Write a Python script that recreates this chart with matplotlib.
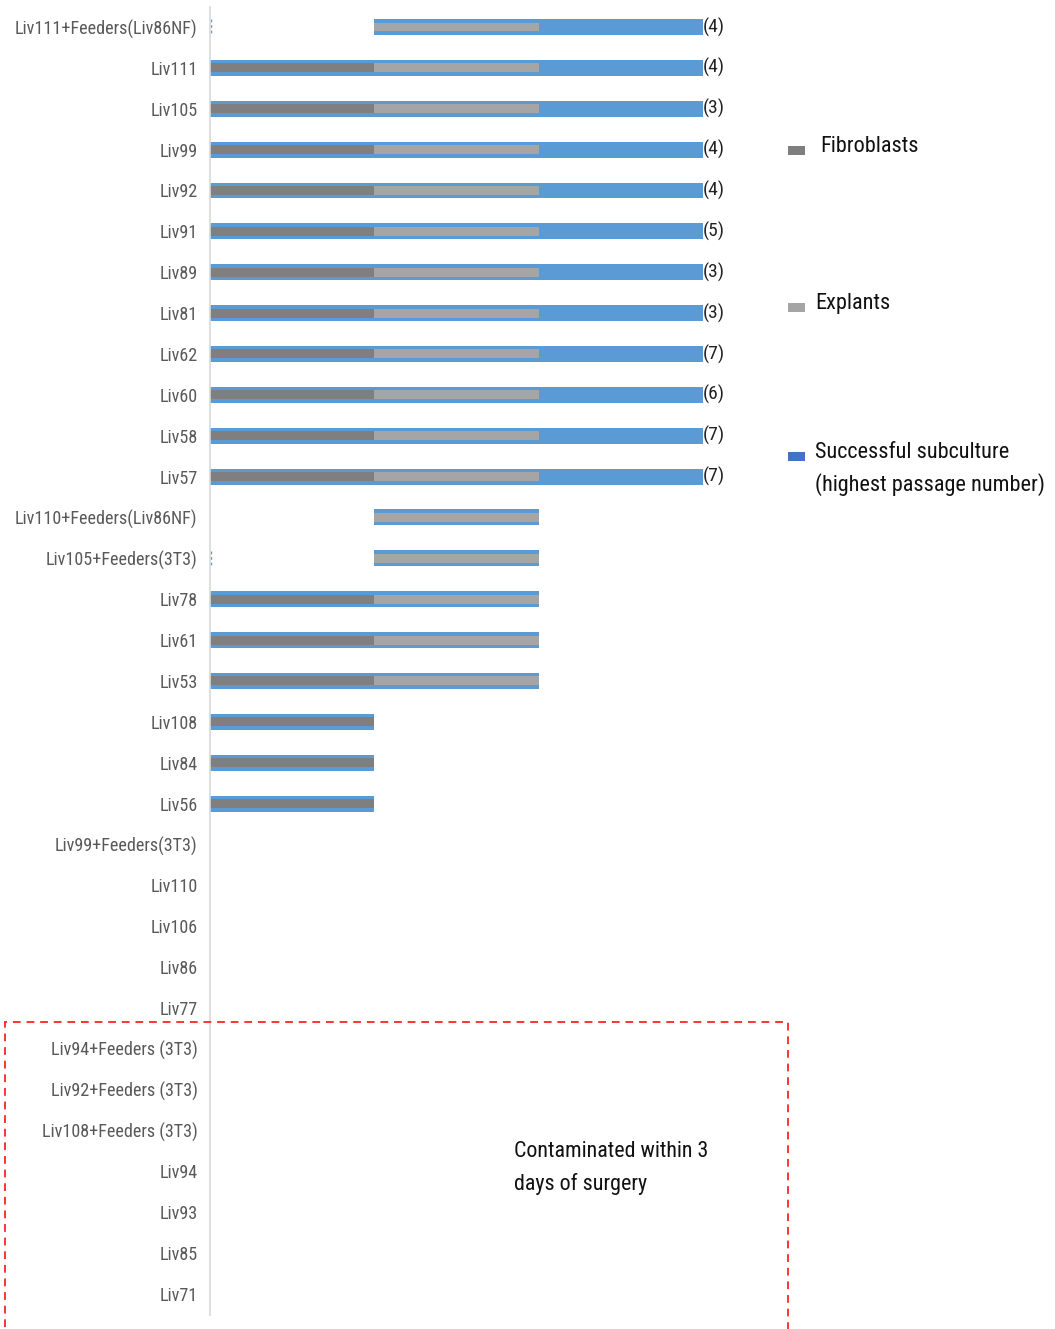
import matplotlib
matplotlib.use("Agg")
import matplotlib.pyplot as plt
from matplotlib import font_manager
from matplotlib.patches import Rectangle

# Prefer a narrow sans face; otherwise fall back to Liberation Sans at smaller sizes
installed = {f.name for f in font_manager.fontManager.ttflist}
narrow = next((n for n in ["Liberation Sans Narrow", "Arial Narrow", "Roboto Condensed"]
               if n in installed), None)
if narrow:
    plt.rcParams['font.family'] = [narrow, 'DejaVu Sans']
    FS_TICK, FS_LEG, FS_NOTE, FS_PASS = 13.1, 16, 15.8, 14
else:
    plt.rcParams['font.family'] = ['Liberation Sans', 'DejaVu Sans']
    FS_TICK, FS_LEG, FS_NOTE, FS_PASS = 11.9, 14.3, 14.3, 13

# Samples, top to bottom
samples = [
    "Liv111+Feeders(Liv86NF)", "Liv111", "Liv105", "Liv99", "Liv92", "Liv91",
    "Liv89", "Liv81", "Liv62", "Liv60", "Liv58", "Liv57",
    "Liv110+Feeders(Liv86NF)", "Liv105+Feeders(3T3)", "Liv78", "Liv61", "Liv53",
    "Liv108", "Liv84", "Liv56",
    "Liv99+Feeders(3T3)", "Liv110", "Liv106", "Liv86", "Liv77",
    "Liv94+Feeders (3T3)", "Liv92+Feeders (3T3)", "Liv108+Feeders (3T3)",
    "Liv94", "Liv93", "Liv85", "Liv71",
]
# Stage reached (1 = yes, 0 = no)
fibroblasts = [0, 1, 1, 1, 1, 1, 1, 1, 1, 1, 1, 1,
               0, 0, 1, 1, 1, 1, 1, 1,
               0, 0, 0, 0, 0, 0, 0, 0, 0, 0, 0, 0]
explants    = [1, 1, 1, 1, 1, 1, 1, 1, 1, 1, 1, 1,
               1, 1, 1, 1, 1, 0, 0, 0,
               0, 0, 0, 0, 0, 0, 0, 0, 0, 0, 0, 0]
subculture  = [1, 1, 1, 1, 1, 1, 1, 1, 1, 1, 1, 1,
               0, 0, 0, 0, 0, 0, 0, 0,
               0, 0, 0, 0, 0, 0, 0, 0, 0, 0, 0, 0]
# Feeder co-cultures with an empty fibroblast entry
feeder_stub = [1, 0, 0, 0, 0, 0, 0, 0, 0, 0, 0, 0,
               0, 1, 0, 0, 0, 0, 0, 0,
               0, 0, 0, 0, 0, 0, 0, 0, 0, 0, 0, 0]
# Highest passage number
passage = ["(4)", "(4)", "(3)", "(4)", "(4)", "(5)", "(3)", "(3)", "(7)", "(6)", "(7)", "(7)"]

C_FIB = "#7f7f7f"
C_EXP = "#a5a5a5"
C_SUB = "#5b9bd5"
C_LEG_SUB = "#4472c4"

W, H = 1055, 1329
fig = plt.figure(figsize=(W / 100, H / 100), dpi=100)

# Axes placement in pixels
ax_left, ax_right, ax_top, ax_bot = 210, 790, 7, 1315
ax = fig.add_axes([ax_left / W, 1 - ax_bot / H, (ax_right - ax_left) / W, (ax_bot - ax_top) / H])

px_per_unit = (703 - 210) / 3.0
ax.set_xlim(0, (ax_right - ax_left) / px_per_unit)
row_px = (1294 - 27) / 31.0
ax.set_ylim(31 + (ax_bot - 1294) / row_px, -(27 - ax_top) / row_px)

n = len(samples)
ys = list(range(n))
stages = [fibroblasts, explants, subculture]

for i in ys:
    reached = [s[i] for s in stages]
    idx = [k for k, r in enumerate(reached) if r]
    if idx:
        start, end = min(idx), max(idx) + 1
        ax.barh(i, end - start, left=start, height=0.39, color=C_SUB, linewidth=0)
    if feeder_stub[i]:
        ax.plot([0.004, 0.004], [i - 0.19, i + 0.19], color=C_SUB, lw=1, ls=(0, (2, 2)))
    if fibroblasts[i]:
        ax.barh(i, 1, left=0, height=0.22, color=C_FIB, linewidth=0)
    if explants[i]:
        ax.barh(i, 1, left=1, height=0.22, color=C_EXP, linewidth=0)
    if subculture[i]:
        ax.text(3, i, passage[i], ha="left", va="center", fontsize=FS_PASS, color="#222222")

ax.set_yticks(ys)
ax.set_yticklabels(samples, fontsize=FS_TICK, color="#595959")
ax.tick_params(axis="y", length=0, pad=9)
ax.set_xticks([])
for side in ["top", "right", "bottom"]:
    ax.spines[side].set_visible(False)
ax.spines["left"].set_color("#d9d9d9")
ax.spines["left"].set_linewidth(1.2)

# Legend
def px(x, y):
    return x / W, 1 - y / H

legend_items = [
    (150, C_FIB, "Fibroblasts", 146, 820),
    (307, C_EXP, "Explants", 304, 815),
    (456, C_LEG_SUB, "Successful subculture\n(highest passage number)", 469, 815),
]
for ymark, col, label, ytext, xt in legend_items:
    x0, y0 = px(788, ymark + 5)
    fig.patches.append(Rectangle((x0, y0), 17 / W, 9 / H, transform=fig.transFigure,
                                 facecolor=col, edgecolor="none"))
    fig.text(*px(xt, ytext), label, ha="left", va="center", fontsize=FS_LEG,
             color="#111111", linespacing=1.55)

# Contamination box
x0, y0 = px(5, 1360)
fig.patches.append(Rectangle((x0, y0), (788 - 5) / W, (1360 - 1022) / H,
                             transform=fig.transFigure, fill=False,
                             edgecolor="#ff3333", linewidth=1.4, linestyle=(0, (4, 3))))
fig.text(*px(514, 1168), "Contaminated within 3\ndays of surgery", ha="left", va="center",
         fontsize=FS_NOTE, color="#111111", linespacing=1.7)

fig.savefig("out.png", dpi=100)
